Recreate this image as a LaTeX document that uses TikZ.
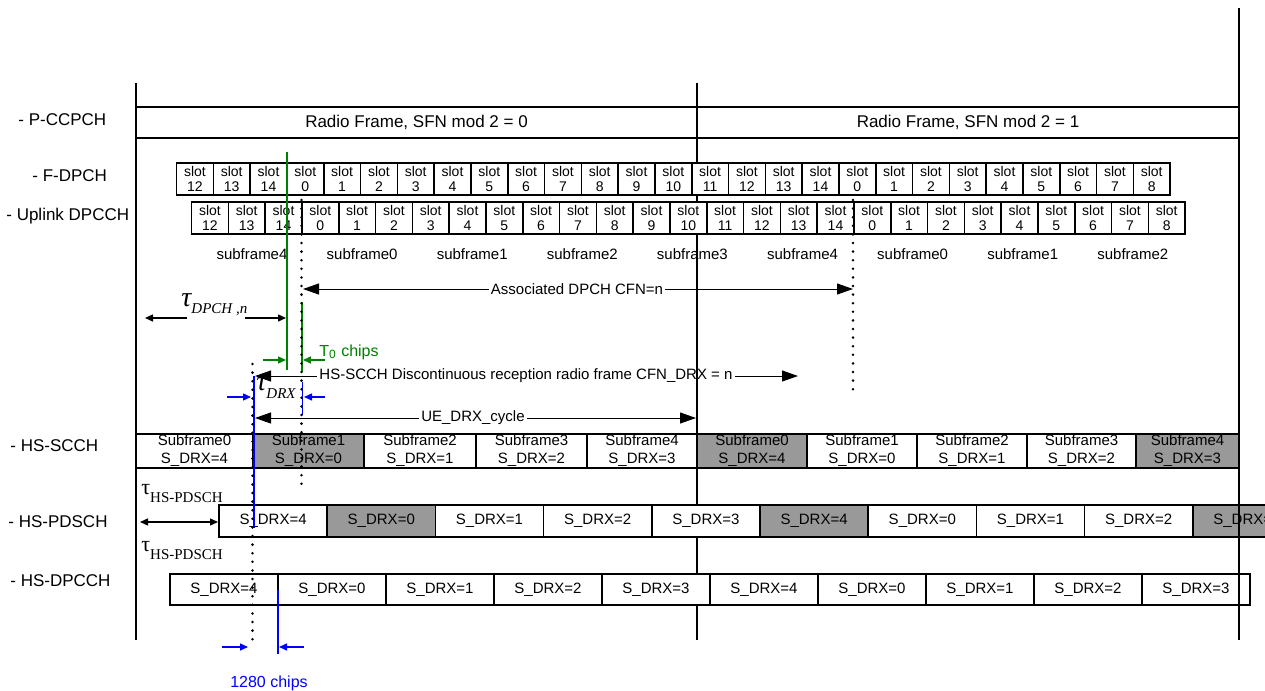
\documentclass[tikz,border=0pt]{standalone}
\usepackage{fontspec}
\setmainfont{Liberation Sans}
\newfontfamily\tmsfont{Liberation Serif}
\usetikzlibrary{arrows.meta}
\definecolor{tgreen}{RGB}{0,128,0}
\definecolor{tblue}{RGB}{0,0,255}
\definecolor{sgray}{RGB}{153,153,153}
\tikzset{
  box/.style={line width=0.8pt,fill=white},
  txt/.style={font=\fontsize{7.5}{9}\selectfont,inner sep=1pt},
  slottxt/.style={font=\fontsize{7}{7.6}\selectfont,align=center,inner sep=0pt},
  chlabel/.style={font=\fontsize{8.5}{10}\selectfont,anchor=west,inner sep=0pt},
  frameline/.style={line width=0.8pt},
  dotline/.style={line width=1.4pt,line cap=round,dash pattern=on 0pt off 4.3pt},
  bigarr/.style={line width=0.5pt,-{Triangle[length=8pt,width=5.5pt]}},
  smallarr/.style={line width=0.7pt,-{Triangle[length=4pt,width=3.5pt]}},
  dblarr/.style={line width=0.7pt,{Triangle[length=4pt,width=3.5pt]}-{Triangle[length=4pt,width=3.5pt]}},
}
\begin{document}
\begin{tikzpicture}[x=0.5pt,y=-0.5pt]
  \clip (0,0) rectangle (1265,691);
  % Frame boundaries
  \draw[frameline] (136,83) -- (136,640);
  \draw[frameline] (697,83) -- (697,640);
  % Channel names
  \node[chlabel] (lpccpch) at (18,120) {- P-CCPCH};
  \node[chlabel] (lfdpch) at (32,176) {- F-DPCH};
  \node[chlabel] (lul) at (6,216) {- Uplink DPCCH};
  \node[chlabel] (lscch) at (10,446) {- HS-SCCH};
  \node[chlabel] (lpdsch) at (8,522) {- HS-PDSCH};
  \node[chlabel] (ldpcch) at (10,581) {- HS-DPCCH};
  % P-CCPCH
  \draw[box] (136,107) rectangle (697,138);
  \draw[box] (697,107) rectangle (1239,138);
  \node[txt,font=\fontsize{8.5}{10}\selectfont] (rf0) at (416.5,122.5) {Radio Frame, SFN mod 2 = 0};
  \node[txt,font=\fontsize{8.5}{10}\selectfont] (rf1) at (968,122.5) {Radio Frame, SFN mod 2 = 1};
  % F-DPCH and uplink DPCCH slots
  \foreach \n [count=\i from 0] in {12,13,14,0,1,2,3,4,5,6,7,8,9,10,11,12,13,14,0,1,2,3,4,5,6,7,8} {
    \draw[box] ({176.5+36.8*\i},163) rectangle ({213.3+36.8*\i},195);
    \node[slottxt] (fd\i) at ({194.9+36.8*\i},179) {slot\\\n};
    \draw[box] ({191.5+36.8*\i},202) rectangle ({228.3+36.8*\i},234);
    \node[slottxt] (ul\i) at ({209.9+36.8*\i},218) {slot\\\n};
  }
  \foreach \s [count=\i from 0] in {4,0,1,2,3,4,0,1,2}
    \node[txt] (sf\i) at ({252+110.1*\i},254) {subframe\s};
  % HS-SCCH
  \foreach \xa/\xb/\sf/\sd/\fc [count=\i from 0] in {136/253/0/4/white,253/364/1/0/sgray,364/476/2/1/white,476/587/3/2/white,587/697/4/3/white,697/807/0/4/sgray,807/917/1/0/white,917/1027/2/1/white,1027/1136/3/2/white,1136/1239/4/3/sgray} {
    \draw[box,fill=\fc] (\xa,434) rectangle (\xb,468);
    \node[txt,align=center] (sc\i) at ({(\xa+\xb)/2},451) {Subframe\sf\\S\_DRX=\sd};
  }
  % HS-PDSCH
  \foreach \sd/\fc [count=\i from 0] in {4/white,0/sgray,1/white,2/white,3/white,4/sgray,0/white,1/white,2/white,3/sgray} {
    \draw[box,fill=\fc] ({219+108.2*\i},505) rectangle ({327.2+108.2*\i},537);
    \node[txt] (pd\i) at ({273.1+108.2*\i},521) {S\_DRX=\sd};
  }
  % HS-DPCCH
  \foreach \sd [count=\i from 0] in {4,0,1,2,3,4,0,1,2,3} {
    \draw[box] ({170+108*\i},574) rectangle ({278+108*\i},605);
    \node[txt] (dp\i) at ({224+108*\i},589.5) {S\_DRX=\sd};
  }
  % tau DPCH,n
  \node[anchor=base west,inner sep=0pt] (tdpch) at (181,306) {\tmsfont\itshape\fontsize{14}{14}\selectfont τ\raisebox{-3.5pt}{\fontsize{7.5}{8}\selectfont DPCH ,n}};
  \coordinate (tdL1) at (187,318);
  \coordinate (tdL2) at (145,318);
  \coordinate (tdR1) at (245,318);
  \coordinate (tdR2) at (286,318);
  \draw[smallarr] (tdL1) -- (tdL2);
  \draw[smallarr] (tdR1) -- (tdR2);
  % Associated DPCH CFN
  \node[txt] (cfn) at (577,289) {Associated DPCH CFN=n};
  \coordinate (cfnL) at (303,289);
  \coordinate (cfnR) at (853,289);
  \draw[bigarr] (cfn.west) -- (cfnL);
  \draw[bigarr] (cfn.east) -- (cfnR);
  % T0 chips
  \draw[tgreen,line width=0.8pt] (287,152) -- (287,370);
  \draw[tgreen,line width=0.8pt] (302,302) -- (302,372);
  \node[text=tgreen,font=\fontsize{8}{9}\selectfont,anchor=base west,inner sep=0pt] (tzero) at (319,356) {T\textsubscript{0} chips};
  \coordinate (tzL1) at (263,360);
  \coordinate (tzL2) at (286,360);
  \coordinate (tzR1) at (325,360);
  \coordinate (tzR2) at (303,360);
  \draw[smallarr,tgreen] (tzL1) -- (tzL2);
  \draw[smallarr,tgreen] (tzR1) -- (tzR2);
  % CFN_DRX
  \node[txt] (cfndrx) at (526,376) {HS-SCCH Discontinuous reception radio frame CFN\_DRX = n};
  \coordinate (drxL) at (255,376);
  \coordinate (drxR) at (798,376);
  \draw[bigarr] (cfndrx.west) -- (drxL);
  \draw[bigarr] (cfndrx.east) -- (drxR);
  % tau DRX
  \node[anchor=base west,inner sep=0pt] (tdrx) at (256,390) {\tmsfont\itshape\fontsize{14}{14}\selectfont τ\raisebox{-4pt}{\fontsize{7.5}{8}\selectfont DRX}};
  \draw[tblue,line width=0.8pt] (254,376) -- (254,528);
  \draw[tblue,line width=0.8pt] (302.5,382) -- (302.5,415);
  \coordinate (bdL1) at (227,397);
  \coordinate (bdL2) at (251,397);
  \coordinate (bdR1) at (325,397);
  \coordinate (bdR2) at (304,397);
  \draw[smallarr,tblue] (bdL1) -- (bdL2);
  \draw[smallarr,tblue] (bdR1) -- (bdR2);
  % UE DRX cycle
  \node[txt] (cycle) at (473,418) {UE\_DRX\_cycle};
  \coordinate (cyL) at (255,418);
  \coordinate (cyR) at (696,418);
  \draw[bigarr] (cycle.west) -- (cyL);
  \draw[bigarr] (cycle.east) -- (cyR);
  % tau HS-PDSCH
  \node[anchor=base west,inner sep=0pt] (thp1) at (141,494) {\tmsfont\fontsize{11}{11}\selectfont τ\raisebox{-4pt}{\fontsize{7.5}{8}\selectfont HS-PDSCH}};
  \node[anchor=base west,inner sep=0pt] (thp2) at (141,551) {\tmsfont\fontsize{11}{11}\selectfont τ\raisebox{-4pt}{\fontsize{7.5}{8}\selectfont HS-PDSCH}};
  \coordinate (hpL) at (140,522);
  \coordinate (hpR) at (218,522);
  \draw[dblarr] (hpL) -- (hpR);
  % 1280 chips
  \draw[tblue,line width=0.8pt] (278,590) -- (278,654);
  \coordinate (ckL1) at (222,647);
  \coordinate (ckL2) at (248,647);
  \coordinate (ckR1) at (304,647);
  \coordinate (ckR2) at (279,647);
  \draw[smallarr,tblue] (ckL1) -- (ckL2);
  \draw[smallarr,tblue] (ckR1) -- (ckR2);
  \node[text=tblue,font=\fontsize{8}{9}\selectfont] (chips) at (269,683) {1280 chips};
  % Dotted markers
  \coordinate (dA1) at (301.5,200);
  \coordinate (dA2) at (301.5,485);
  \coordinate (dB1) at (853,200);
  \coordinate (dB2) at (853,394);
  \coordinate (dC1) at (252.5,364);
  \coordinate (dC2) at (252.5,647);
  \draw[dotline] (dA1) -- (dA2);
  \draw[dotline] (dB1) -- (dB2);
  \draw[dotline] (dC1) -- (dC2);
  % Right boundary
  \draw[frameline] (1239,8) -- (1239,640);
\end{tikzpicture}
\end{document}
